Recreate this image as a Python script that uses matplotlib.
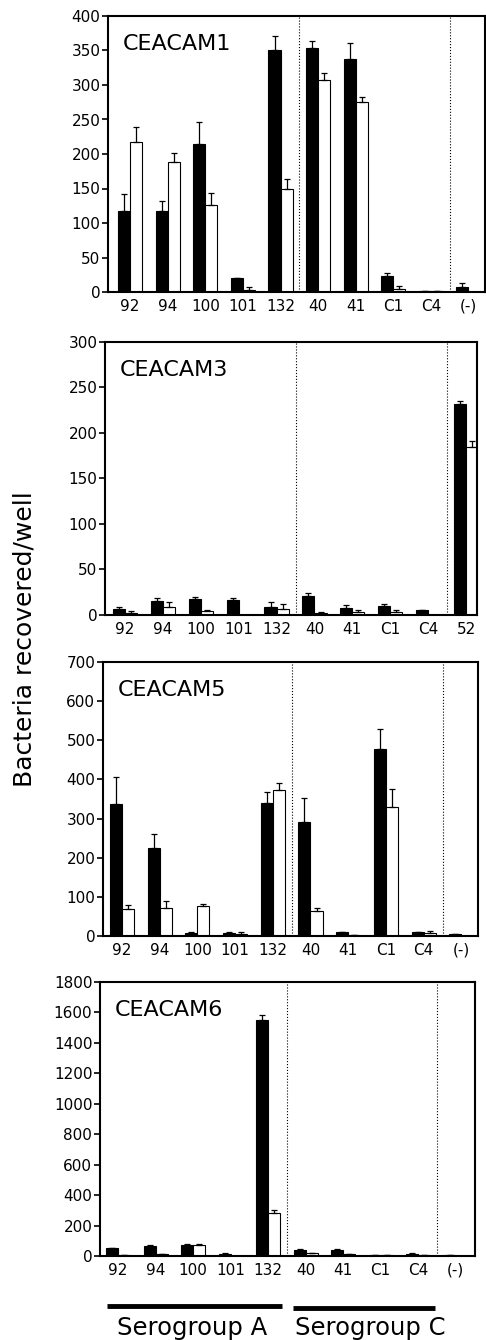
import numpy as np
import matplotlib
matplotlib.use("Agg")
import matplotlib.pyplot as plt
from matplotlib.transforms import blended_transform_factory

# strain labels
strains = ['92', '94', '100', '101', '132', '40', '41', 'C1', 'C4', '(-)']
strains_c3 = ['92', '94', '100', '101', '132', '40', '41', 'C1', 'C4', '52']

# CEACAM1
c1_black = [118, 117, 214, 20, 350, 353, 337, 23, 1, 7]
c1_black_err = [24, 15, 32, 1, 21, 11, 24, 5, 0, 6]
c1_white = [218, 189, 126, 3, 149, 307, 275, 5, 1, 0]
c1_white_err = [21, 12, 18, 4, 15, 11, 7, 4, 0, 0]

# CEACAM3
c3_black = [7, 15, 18, 17, 9, 21, 8, 10, 5, 232]
c3_black_err = [2, 4, 2, 2, 5, 3, 3, 2, 0, 3]
c3_white = [2, 9, 4, 0, 7, 2, 3, 3, 0, 185]
c3_white_err = [2, 5, 2, 0, 5, 1, 3, 3, 0, 6]

# CEACAM5
c5_black = [337, 224, 7, 7, 339, 292, 10, 479, 10, 6]
c5_black_err = [68, 36, 4, 2, 30, 60, 0, 51, 0, 0]
c5_white = [69, 71, 76, 6, 373, 65, 3, 329, 8, 0]
c5_white_err = [11, 18, 5, 3, 17, 6, 0, 47, 4, 0]

# CEACAM6
c6_black = [50, 66, 73, 15, 1550, 40, 40, 5, 15, 5]
c6_black_err = [4, 6, 4, 3, 33, 5, 4, 0, 5, 3]
c6_white = [5, 10, 73, 2, 282, 18, 10, 5, 5, 0]
c6_white_err = [0, 0, 6, 0, 18, 3, 0, 0, 0, 0]

W, H = 486, 1340
fig = plt.figure(figsize=(W / 100, H / 100), dpi=100)


def px_axes(left, top, right, bottom):
    return fig.add_axes([left / W, 1 - bottom / H, (right - left) / W, (bottom - top) / H])


panels = [
    # name, labels, black, black err, white, white err, ymax, ystep, (L, T, R, B), xlim
    ('CEACAM1', strains, c1_black, c1_black_err, c1_white, c1_white_err, 400, 50,
     (108, 16, 485, 292), (-0.59, 9.44)),
    ('CEACAM3', strains_c3, c3_black, c3_black_err, c3_white, c3_white_err, 300, 50,
     (105, 342, 477, 615), (-0.53, 9.29)),
    ('CEACAM5', strains, c5_black, c5_black_err, c5_white, c5_white_err, 700, 100,
     (103, 662, 478, 936), (-0.50, 9.44)),
    ('CEACAM6', strains, c6_black, c6_black_err, c6_white, c6_white_err, 1800, 200,
     (100, 982, 475, 1256), (-0.48, 9.52)),
]

w = 0.32
axes = []
for name, labels, blk, blk_e, wht, wht_e, ymax, ystep, box, xl in panels:
    ax = px_axes(*box)
    x = np.arange(len(labels))
    ax.bar(x - w / 2, blk, w, color='black', edgecolor='black', linewidth=0.8, zorder=2)
    ax.bar(x + w / 2, wht, w, color='white', edgecolor='black', linewidth=0.8, zorder=2)
    ax.errorbar(x - w / 2, blk, yerr=[np.zeros(len(blk)), blk_e], fmt='none',
                ecolor='black', elinewidth=0.9, capsize=2.5, capthick=0.9, zorder=3)
    ax.errorbar(x + w / 2, wht, yerr=[np.zeros(len(wht)), wht_e], fmt='none',
                ecolor='black', elinewidth=0.9, capsize=2.5, capthick=0.9, zorder=3)
    for sep in (4.5, 8.5):
        ax.axvline(sep, color='black', linestyle=':', linewidth=0.8, zorder=1)
    ax.set_xlim(*xl)
    ax.set_ylim(0, ymax)
    ax.set_yticks(np.arange(0, ymax + 1, ystep))
    ax.set_xticks(x)
    ax.set_xticklabels(labels)
    ax.tick_params(axis='x', length=0, pad=5, labelsize=11)
    ax.tick_params(axis='y', direction='out', length=4, width=1.2, pad=1.5, labelsize=11)
    for s in ax.spines.values():
        s.set_linewidth(1.5)
    ax.text(0.04, 0.877, name, transform=ax.transAxes, fontsize=16, va='baseline', ha='left')
    axes.append(ax)

fig.text(25 / W, 1 - 639 / H, 'Bacteria recovered/well', rotation=90,
         ha='center', va='center', fontsize=18)

# serogroup bars under the last panel
ax4 = axes[-1]
tr = blended_transform_factory(ax4.transData, fig.transFigure)
ax4.plot([-0.29, 4.37], [1 - 1306 / H] * 2, color='black', linewidth=3.5,
         transform=tr, clip_on=False, solid_capstyle='butt')
ax4.plot([4.67, 8.45], [1 - 1308 / H] * 2, color='black', linewidth=3.5,
         transform=tr, clip_on=False, solid_capstyle='butt')
ax4.text(1.97, 1 - 1335 / H, 'Serogroup A', transform=tr, ha='center', va='baseline', fontsize=17.5)
ax4.text(6.72, 1 - 1335 / H, 'Serogroup C', transform=tr, ha='center', va='baseline', fontsize=17.5)

fig.savefig('out.png', dpi=100)
